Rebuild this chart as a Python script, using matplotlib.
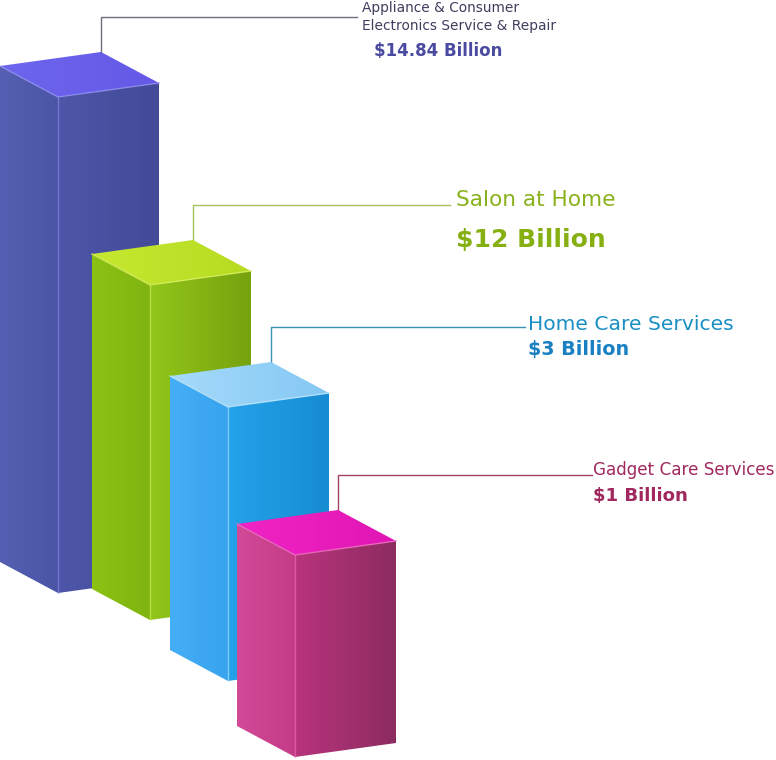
import numpy as np
import matplotlib.pyplot as plt
from matplotlib.patches import Polygon
from matplotlib.colors import to_rgb

# data
categories = ["Appliance & Consumer\nElectronics Service & Repair",
              "Salon at Home", "Home Care Services", "Gadget Care Services"]
values = [14.84, 12, 3, 1]
value_labels = ["\\$14.84 Billion", "\\$12 Billion", "\\$3 Billion", "\\$1 Billion"]

# pictorial layout (pixel space of the 776x760 canvas, y down)
front_x = [58, 150, 228, 295]
top_y = [97, 285, 407, 555]
bottom_y = [593, 620, 681, 757]
LEFT = (-58, -31)
RIGHT = (101, -14)

# colours per bar: left face (2), front face (2), top face (2), edge, label, value
left_cols = [("#5560b2", "#4a55a6"), ("#8cc214", "#80b410"),
             ("#44aef6", "#38a4ee"), ("#d24a98", "#c43c86")]
front_cols = [("#4d56a8", "#434a98"), ("#92c61a", "#76a20e"),
              ("#24a2ea", "#168cd2"), ("#b8347c", "#8c2c60")]
top_cols = [("#6e66ee", "#6458e6"), ("#c6e830", "#b6dc22"),
            ("#a6dafa", "#84c8f4"), ("#f024c4", "#e016b4")]
edge_cols = ["#8f8ff0", "#d8f060", "#bfe6ff", "#f070c0"]
label_cols = ["#3e3e5e", "#8ab21e", "#1a8fc4", "#a0285e"]
value_cols = ["#4a4aa0", "#86b012", "#1a80c2", "#a0285e"]
line_cols = ["#6e6e7e", "#a8c25a", "#3a92b6", "#a44066"]


def shade(ax, pts, c0, c1):
    pts = np.asarray(pts, dtype=float)
    x0, x1 = pts[:, 0].min(), pts[:, 0].max()
    y0, y1 = pts[:, 1].min(), pts[:, 1].max()
    a, b = np.array(to_rgb(c0)), np.array(to_rgb(c1))
    t = np.linspace(0, 1, 128)
    grad = (a[None, :] * (1 - t[:, None]) + b[None, :] * t[:, None])[None, :, :]
    grad = np.repeat(grad, 2, axis=0)
    poly = Polygon(pts, closed=True, facecolor="none", edgecolor="none")
    ax.add_patch(poly)
    im = ax.imshow(grad, extent=(x0, x1, y1, y0), aspect="auto",
                   interpolation="bilinear", zorder=2)
    im.set_clip_path(poly)


fig = plt.figure(figsize=(7.76, 7.6), dpi=100)
ax = fig.add_axes([0, 0, 1, 1])
ax.set_xlim(0, 776)
ax.set_ylim(760, 0)
ax.axis("off")

for i in range(len(values)):
    fx, ft, fb = front_x[i], top_y[i], bottom_y[i]
    lx, ly = LEFT
    rx, ry = RIGHT
    left = [(fx + lx, ft + ly), (fx, ft), (fx, fb), (fx + lx, fb + ly)]
    front = [(fx, ft), (fx + rx, ft + ry), (fx + rx, fb + ry), (fx, fb)]
    top = [(fx, ft), (fx + lx, ft + ly), (fx + lx + rx, ft + ly + ry), (fx + rx, ft + ry)]
    shade(ax, left, *left_cols[i])
    shade(ax, front, *front_cols[i])
    shade(ax, top, *top_cols[i])
    # highlight edges
    ax.plot([fx + lx, fx, fx + rx], [ft + ly, ft, ft + ry], color=edge_cols[i],
            lw=1.0, alpha=0.8, zorder=3)
    ax.plot([fx, fx], [ft, fb], color=edge_cols[i], lw=1.0, alpha=0.6, zorder=3)

    # leader line from back corner
    bx, by = fx + lx + rx, ft + ly + ry
    hy = by - 35
    line_end = [357, 450, 525, 592][i]
    ax.plot([bx, bx, line_end], [by, hy, hy], color=line_cols[i],
            lw=1.0, zorder=1)

# labels
ax.text(362, 17, categories[0], color=label_cols[0], fontsize=9.9,
        va="center", ha="left", linespacing=1.35)
ax.text(374, 51, value_labels[0], color=value_cols[0], fontsize=12,
        fontweight="bold", va="center", ha="left")

ax.text(456, 200, categories[1], color=label_cols[1], fontsize=15.6,
        va="center", ha="left")
ax.text(456, 240, value_labels[1], color=value_cols[1], fontsize=18,
        fontweight="bold", va="center", ha="left")

ax.text(528, 325, categories[2], color=label_cols[2], fontsize=14.6,
        va="center", ha="left")
ax.text(528, 350, value_labels[2], color=value_cols[2], fontsize=13.8,
        fontweight="bold", va="center", ha="left")

ax.text(593, 470, categories[3], color=label_cols[3], fontsize=12.1,
        va="center", ha="left")
ax.text(593, 496, value_labels[3], color=value_cols[3], fontsize=13.1,
        fontweight="bold", va="center", ha="left")

plt.savefig("out.png", dpi=100, facecolor="white")
